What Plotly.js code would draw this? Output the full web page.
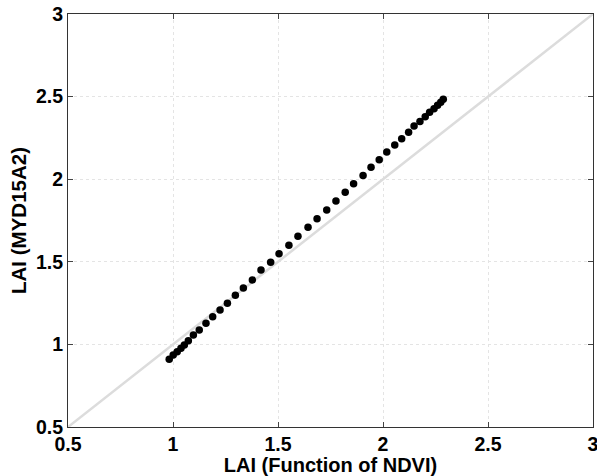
<!DOCTYPE html>
<html>
<head>
<meta charset="utf-8">
<script src="https://cdn.plot.ly/plotly-3.0.1.min.js"></script>
<style>html,body{margin:0;padding:0;background:#fff;}#chart{width:597px;height:476px;}</style>
</head>
<body>
<div id="chart"></div>
<script>
// LAI from function of NDVI (x) vs LAI MYD15A2 (y)
const laiNdvi = [0.982, 1.001, 1.020, 1.038, 1.054, 1.073, 1.097, 1.125, 1.157, 1.189,
  1.224, 1.259, 1.297, 1.335, 1.378, 1.419, 1.465, 1.505, 1.552, 1.595,
  1.643, 1.686, 1.732, 1.776, 1.820, 1.860, 1.905, 1.943, 1.982, 2.018,
  2.056, 2.089, 2.122, 2.148, 2.176, 2.201, 2.222, 2.243, 2.260, 2.275, 2.287];
const laiMyd = [0.910, 0.936, 0.956, 0.976, 0.996, 1.022, 1.057, 1.087, 1.128, 1.168,
  1.208, 1.249, 1.297, 1.341, 1.390, 1.450, 1.497, 1.549, 1.600, 1.654,
  1.709, 1.761, 1.814, 1.868, 1.921, 1.973, 2.022, 2.072, 2.118, 2.165,
  2.207, 2.245, 2.284, 2.322, 2.350, 2.378, 2.405, 2.427, 2.447, 2.466, 2.484];
const oneToOne = [0.5, 3];
const tickVals = [0.5, 1, 1.5, 2, 2.5, 3];
const tickText = ['0.5', '1', '1.5', '2', '2.5', '3'];
const xTitle = 'LAI (Function of NDVI)';
const yTitle = 'LAI (MYD15A2)';

const FONT = '"Liberation Sans", Arial, sans-serif';

const traces = [
  {x: oneToOne, y: oneToOne, mode: 'lines', type: 'scatter',
   line: {color: '#dcdcdc', width: 2.5}, hoverinfo: 'skip', showlegend: false},
  {x: laiNdvi, y: laiMyd, mode: 'markers', type: 'scatter',
   marker: {color: '#000', size: 7.5}, showlegend: false}
];

const axisCommon = {
  range: [0.5, 3], tickvals: tickVals, ticktext: tickText,
  ticks: 'inside', ticklen: 5, tickcolor: '#444', tickwidth: 1,
  showline: true, linecolor: '#333', linewidth: 1, mirror: 'ticks',
  showgrid: true, gridcolor: '#e4e4e4', griddash: 'dot', gridwidth: 1,
  zeroline: false, ticklabeloverflow: 'allow',
  tickfont: {family: FONT, size: 19.5, color: '#000', weight: 'bold'}
};

const layout = {
  width: 597, height: 476,
  margin: {l: 68, r: 4, t: 14, b: 49},
  paper_bgcolor: '#fff', plot_bgcolor: '#fff',
  font: {family: FONT},
  xaxis: Object.assign({}, axisCommon, {
    title: {text: '<b>' + xTitle + '</b>', standoff: 0,
            font: {family: FONT, size: 20, color: '#000'}}
  }),
  yaxis: Object.assign({}, axisCommon, {
    title: {text: '<b>' + yTitle + '</b>', standoff: 3,
            font: {family: FONT, size: 20.5, color: '#000'}}
  })
};

Plotly.newPlot('chart', traces, layout, {displayModeBar: false, staticPlot: true});
</script>
</body>
</html>
